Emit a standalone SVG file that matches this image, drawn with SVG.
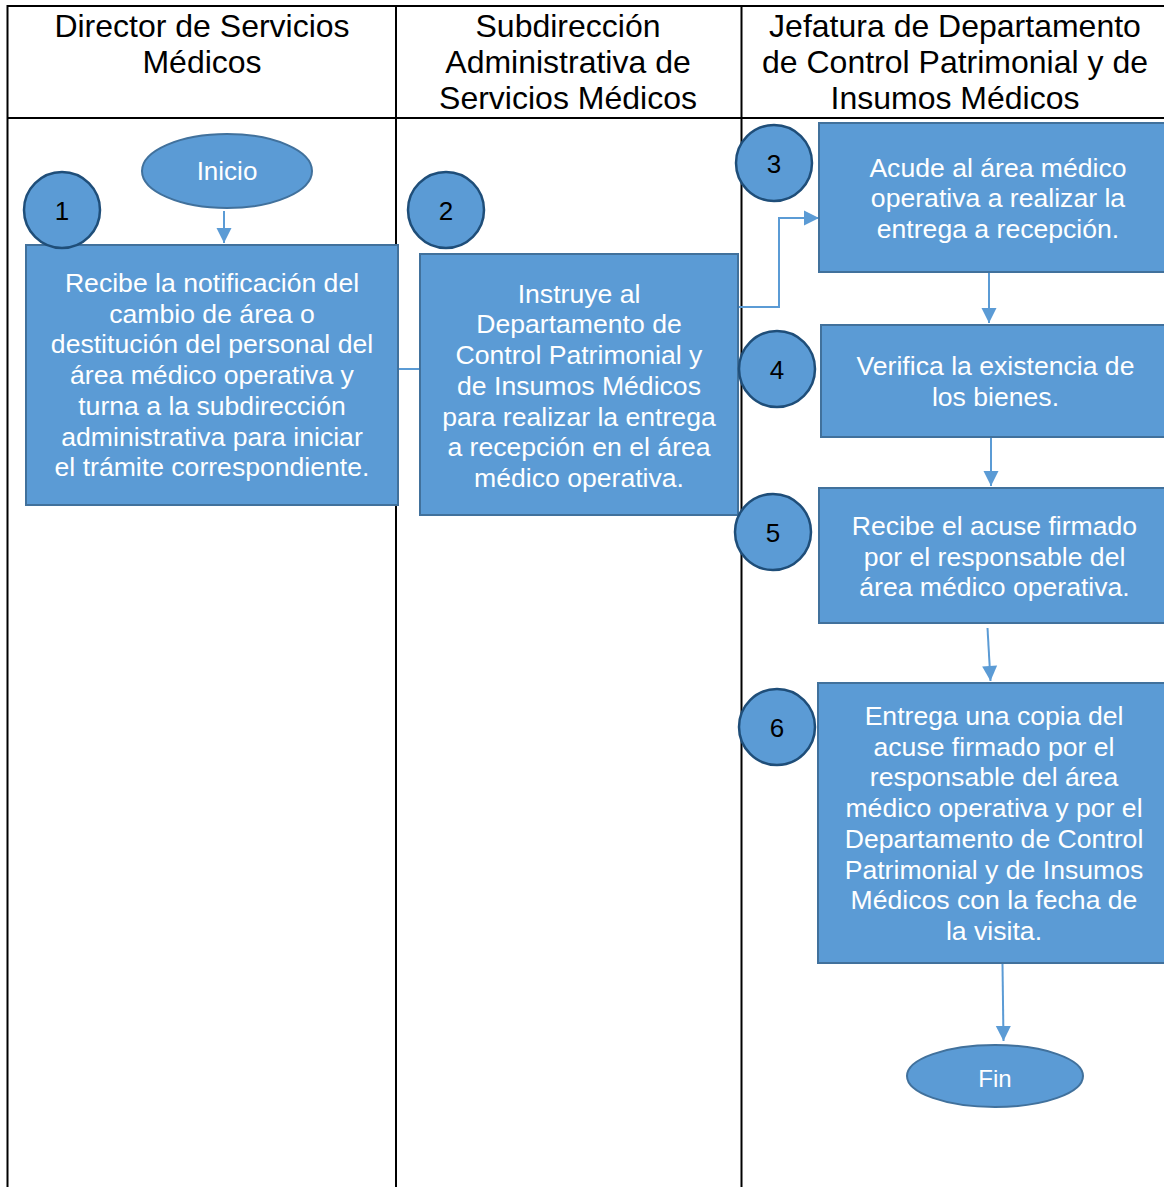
<svg xmlns="http://www.w3.org/2000/svg" width="1164" height="1187" viewBox="0 0 1164 1187">
<defs>
<style>
.hdr{font-family:"Liberation Sans",Arial,sans-serif;font-size:32px;fill:#000;text-anchor:middle}
.box{fill:#5B9BD5;stroke:#41719C;stroke-width:2}
.term{fill:#5B9BD5;stroke:#41719C;stroke-width:2}
.num{fill:#5B9BD5;stroke:#1F4E79;stroke-width:2.5}
.bt{font-family:"Liberation Sans",Arial,sans-serif;font-size:26.6px;fill:#fff;text-anchor:middle}
.nt{font-family:"Liberation Sans",Arial,sans-serif;font-size:26px;fill:#000;text-anchor:middle}
.tt{font-family:"Liberation Sans",Arial,sans-serif;fill:#fff;text-anchor:middle}
.grid{stroke:#000;stroke-width:2;fill:none}
.con{stroke:#5B9BD5;stroke-width:2;fill:none}
</style>
<marker id="ah" markerUnits="userSpaceOnUse" markerWidth="18" markerHeight="18" viewBox="0 0 18 18" refX="16" refY="9" orient="auto">
<path d="M1,1.5 L16,9 L1,16.5 Z" fill="#5B9BD5"/>
</marker>
</defs>
<rect width="1164" height="1187" fill="#fff"/>
<g id="table">
<line class="grid" x1="7.5" y1="6" x2="1164" y2="6"/>
<line class="grid" x1="7.5" y1="118" x2="1164" y2="118"/>
<line class="grid" x1="7.5" y1="5" x2="7.5" y2="1187"/>
<line class="grid" x1="396" y1="5" x2="396" y2="1187"/>
<line class="grid" x1="741.5" y1="5" x2="741.5" y2="1187"/>
<text class="hdr" x="202" y="36.5">Director de Servicios</text>
<text class="hdr" x="202" y="72.8">Médicos</text>
<text class="hdr" x="568" y="36.5">Subdirección</text>
<text class="hdr" x="568" y="72.8">Administrativa de</text>
<text class="hdr" x="568" y="109.1">Servicios Médicos</text>
<text class="hdr" x="955" y="36.5">Jefatura de Departamento</text>
<text class="hdr" x="955" y="72.8">de Control Patrimonial y de</text>
<text class="hdr" x="955" y="109.1">Insumos Médicos</text>
</g>
<g id="connectors">
<line class="con" x1="224" y1="211" x2="224" y2="243" marker-end="url(#ah)"/>
<line class="con" x1="399" y1="369" x2="420" y2="369"/>
<polyline class="con" points="739,307 779,307 779,218 819,218" marker-end="url(#ah)"/>
<line class="con" x1="989" y1="273" x2="989" y2="323" marker-end="url(#ah)"/>
<line class="con" x1="991" y1="437" x2="991" y2="486" marker-end="url(#ah)"/>
<line class="con" x1="987.5" y1="628" x2="990.5" y2="681" marker-end="url(#ah)"/>
<line class="con" x1="1002.5" y1="964" x2="1003.5" y2="1041" marker-end="url(#ah)"/>
</g>
<g id="inicio">
<ellipse class="term" cx="227" cy="171" rx="85" ry="37"/>
<text class="tt" x="227" y="180" font-size="26">Inicio</text>
</g>
<g id="step1">
<rect class="box" x="26" y="245" width="372" height="260"/>
<text class="bt" x="212" y="292">Recibe la notificación del</text>
<text class="bt" x="212" y="322.7">cambio de área o</text>
<text class="bt" x="212" y="353.4">destitución del personal del</text>
<text class="bt" x="212" y="384.1">área médico operativa y</text>
<text class="bt" x="212" y="414.8">turna a la subdirección</text>
<text class="bt" x="212" y="445.5">administrativa para iniciar</text>
<text class="bt" x="212" y="476.2">el trámite correspondiente.</text>
</g>
<g id="num1">
<circle class="num" cx="62" cy="210" r="38"/>
<text class="nt" x="62" y="219.5">1</text>
</g>
<g id="step2">
<rect class="box" x="420" y="254" width="318" height="261"/>
<text class="bt" x="579" y="302.7">Instruye al</text>
<text class="bt" x="579" y="333.4">Departamento de</text>
<text class="bt" x="579" y="364.1">Control Patrimonial y</text>
<text class="bt" x="579" y="394.8">de Insumos Médicos</text>
<text class="bt" x="579" y="425.5">para realizar la entrega</text>
<text class="bt" x="579" y="456.2">a recepción en el área</text>
<text class="bt" x="579" y="486.9">médico operativa.</text>
</g>
<g id="num2">
<circle class="num" cx="446" cy="210" r="38"/>
<text class="nt" x="446" y="219.5">2</text>
</g>
<g id="step3">
<rect class="box" x="819" y="123" width="352" height="149"/>
<text class="bt" x="998" y="176.7">Acude al área médico</text>
<text class="bt" x="998" y="207.4">operativa a realizar la</text>
<text class="bt" x="998" y="238.1">entrega a recepción.</text>
</g>
<g id="num3">
<circle class="num" cx="774" cy="163" r="38"/>
<text class="nt" x="774" y="172.5">3</text>
</g>
<g id="step4">
<rect class="box" x="821" y="325" width="350" height="112"/>
<text class="bt" x="995.5" y="375">Verifica la existencia de</text>
<text class="bt" x="995.5" y="405.7">los bienes.</text>
</g>
<g id="num4">
<circle class="num" cx="777" cy="369" r="38"/>
<text class="nt" x="777" y="378.5">4</text>
</g>
<g id="step5">
<rect class="box" x="819" y="488" width="352" height="135"/>
<text class="bt" x="994.5" y="535">Recibe el acuse firmado</text>
<text class="bt" x="994.5" y="565.7">por el responsable del</text>
<text class="bt" x="994.5" y="596.4">área médico operativa.</text>
</g>
<g id="num5">
<circle class="num" cx="773" cy="532" r="38"/>
<text class="nt" x="773" y="541.5">5</text>
</g>
<g id="step6">
<rect class="box" x="818" y="683" width="353" height="280"/>
<text class="bt" x="994" y="725">Entrega una copia del</text>
<text class="bt" x="994" y="755.7">acuse firmado por el</text>
<text class="bt" x="994" y="786.4">responsable del área</text>
<text class="bt" x="994" y="817.1">médico operativa y por el</text>
<text class="bt" x="994" y="847.8">Departamento de Control</text>
<text class="bt" x="994" y="878.5">Patrimonial y de Insumos</text>
<text class="bt" x="994" y="909.2">Médicos con la fecha de</text>
<text class="bt" x="994" y="939.9">la visita.</text>
</g>
<g id="num6">
<circle class="num" cx="777" cy="727" r="38"/>
<text class="nt" x="777" y="736.5">6</text>
</g>
<g id="fin">
<ellipse class="term" cx="995" cy="1076" rx="88" ry="31"/>
<text class="tt" x="995" y="1087" font-size="24">Fin</text>
</g>
</svg>
